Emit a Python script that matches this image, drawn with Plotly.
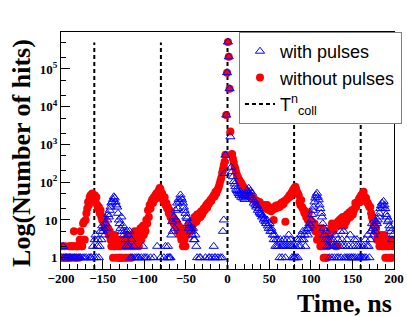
import plotly.graph_objects as go

# Histogram bins: 1 ns wide, from -200 to 199 ns (lower edges)
bin_start = -200
bin_count = 400

# Counts "without pulses" (red), 10 bins per row
red_counts = [
    2, 1, 1, 1, 2, 1, 1, 1, 1, 2,          # -200
    1, 2, 1, 2, 2, 5, 1, 2, 1, 2,          # -190
    2, 1, 3, 5, 2, 2, 8, 9, 3, 10,         # -180
    15, 20, 30, 25, 40, 45, 35, 50, 42, 38,  # -170
    45, 30, 40, 25, 20, 22, 15, 18, 12, 10,  # -160
    12, 8, 10, 6, 7, 5, 6, 4, 5, 3,        # -150
    2, 3, 1, 2, 4, 2, 1, 3, 2, 1,          # -140
    1, 2, 1, 1, 3, 2, 1, 2, 1, 4,          # -130
    2, 1, 3, 2, 1, 4, 2, 3, 5, 2,          # -120
    4, 3, 5, 2, 4, 6, 3, 5, 7, 4,          # -110
    6, 5, 10, 8, 18, 12, 25, 20, 30, 35,   # -100
    28, 40, 35, 45, 50, 38, 55, 60, 70, 65,  # -90
    45, 50, 35, 30, 40, 25, 28, 20, 22, 15,  # -80
    18, 12, 15, 10, 12, 8, 10, 7, 9, 6,    # -70
    5, 7, 4, 6, 3, 5, 2, 4, 3, 2,          # -60
    5, 4, 6, 8, 5, 7, 9, 6, 10, 8,         # -50
    12, 10, 9, 14, 11, 13, 15, 12, 17, 14,  # -40
    16, 20, 18, 22, 25, 21, 28, 26, 30, 34,  # -30
    32, 38, 40, 45, 42, 55, 50, 60, 65, 75,  # -20
    90, 110, 130, 175, 220, 280, 350, 530, 6000, 80000,  # -10
    520000, 210000, 30000, 2200, 530, 560, 420, 330, 260, 220,  # 0
    180, 150, 135, 120, 110, 100, 95, 85, 76, 72,  # 10
    65, 60, 55, 58, 50, 48, 45, 42, 44, 40,  # 20
    38, 36, 35, 33, 30, 32, 28, 27, 30, 25,  # 30
    26, 24, 22, 25, 20, 23, 21, 25, 19, 22,  # 40
    18, 20, 17, 21, 19, 10, 22, 20, 24, 21,  # 50
    23, 25, 22, 26, 28, 25, 30, 27, 32, 9,   # 60
    34, 36, 38, 40, 45, 42, 50, 55, 60, 65,  # 70
    70, 76, 65, 55, 50, 45, 30, 25, 34, 22,  # 80
    20, 18, 15, 17, 12, 14, 10, 15, 9, 10,   # 90
    8, 9, 7, 6, 8, 5, 6, 3, 5, 4,          # 100
    3, 2, 6, 2, 4, 1, 2, 1, 3, 1,          # 110
    2, 3, 5, 4, 6, 8, 5, 6, 7, 2,          # 120
    8, 2, 9, 7, 10, 8, 11, 9, 12, 10,      # 130
    7, 12, 9, 14, 11, 13, 16, 12, 15, 18,  # 140
    14, 17, 20, 28, 22, 28, 30, 34, 38, 30,  # 150
    45, 40, 50, 56, 42, 35, 38, 30, 28, 25,  # 160
    22, 22, 15, 12, 10, 7, 8, 5, 6, 3,     # 170
    4, 3, 2, 3, 4, 2, 3, 2, 4, 1,          # 180
    2, 1, 3, 2, 1, 3, 1, 1, 2, 3,          # 190
]

# Counts "with pulses" (blue), 10 bins per row (0 = empty bin)
blue_counts = [
    1, 0, 2, 1, 0, 1, 1, 0, 1, 0,          # -200
    1, 1, 0, 1, 0, 1, 1, 0, 1, 0,          # -190
    1, 0, 1, 1, 0, 0, 1, 0, 1, 0,          # -180
    1, 0, 0, 1, 0, 1, 1, 0, 2, 1,          # -170
    3, 4, 1, 2, 3, 1, 2, 5, 3, 7,          # -160
    5, 6, 4, 8, 6, 10, 14, 12, 18, 22,     # -150
    28, 30, 35, 41, 38, 30, 25, 22, 15, 10,  # -140
    8, 6, 12, 5, 7, 4, 5, 3, 2, 5,         # -130
    4, 2, 5, 1, 3, 1, 0, 2, 1, 0,          # -120
    1, 0, 1, 1, 0, 0, 1, 0, 2, 1,          # -110
    0, 1, 0, 1, 0, 0, 0, 1, 0, 0,          # -100
    0, 1, 0, 0, 0, 2, 0, 0, 0, 1,          # -90
    0, 0, 0, 1, 0, 2, 0, 1, 2, 1,          # -80
    1, 1, 4, 9, 5, 12, 6, 18, 10, 28,      # -70
    20, 35, 30, 46, 38, 34, 28, 22, 18, 15,  # -60
    12, 11, 8, 6, 7, 6, 5, 4, 6, 3,        # -50
    3, 4, 2, 1, 0, 0, 1, 1, 0, 0,          # -40
    0, 0, 0, 1, 0, 0, 0, 1, 1, 0,          # -30
    0, 1, 0, 2, 1, 1, 0, 0, 1, 0,          # -20
    0, 1, 0, 1, 5, 10, 170, 520, 6000, 80000,  # -10
    520000, 210000, 30000, 1600, 250, 190, 140, 104, 90, 76,  # 0
    65, 60, 55, 50, 45, 56, 40, 48, 38, 44,  # 10
    35, 42, 50, 60, 55, 69, 45, 58, 40, 51,  # 20
    35, 28, 32, 25, 22, 24, 18, 20, 16, 15,  # 30
    14, 12, 13, 10, 11, 9, 8, 10, 7, 6,    # 40
    8, 5, 6, 5, 4, 3, 4, 2, 3, 2,          # 50
    3, 2, 1, 3, 2, 1, 2, 3, 2, 1,          # 60
    2, 3, 2, 4, 2, 3, 2, 1, 2, 1,          # 70
    1, 2, 1, 3, 1, 2, 3, 2, 4, 3,          # 80
    5, 3, 4, 2, 5, 6, 4, 6, 8, 7,          # 90
    10, 14, 18, 22, 30, 38, 45, 51, 40, 34,  # 100
    25, 20, 15, 12, 8, 6, 4, 3, 5, 2,      # 110
    3, 2, 1, 3, 2, 1, 3, 2, 1, 4,          # 120
    2, 1, 3, 1, 2, 5, 1, 3, 2, 5,          # 130
    1, 2, 1, 3, 1, 2, 1, 4, 1, 1,          # 140
    2, 1, 3, 1, 2, 3, 1, 2, 1, 1,          # 150
    2, 1, 1, 2, 1, 3, 1, 2, 4, 2,          # 160
    1, 3, 5, 8, 6, 4, 7, 5, 9, 8,          # 170
    10, 12, 15, 20, 24, 28, 22, 31, 25, 20,  # 180
    14, 12, 9, 10, 7, 6, 5, 3, 4, 0,       # 190
]

# Collision times T^n_coll (ns) and extent of marker lines
coll_times = [-160, -80, 0, 80, 160]
coll_line_bottom = 0.5
coll_line_top = 5e5

x_ticks = [-200, -150, -100, -50, 0, 50, 100, 150, 200]
y_tickvals = [1, 10, 100, 1000, 10000, 100000]
y_ticktext = ["1", "10", "10<sup>2</sup>", "10<sup>3</sup>", "10<sup>4</sup>", "10<sup>5</sup>"]

times = [bin_start + i for i in range(bin_count)]

def nonzero(counts):
    xs, ys = [], []
    for t, c in zip(times, counts):
        if c > 0:
            xs.append(t + 0.5)
            ys.append(c)
    return xs, ys

rx, ry = nonzero(red_counts)
bx, by = nonzero(blue_counts)

lx, ly = [], []
for t in coll_times:
    lx += [t, t, None]
    ly += [coll_line_bottom, coll_line_top, None]

fig = go.Figure()
fig.add_trace(go.Scatter(
    x=lx, y=ly, mode="lines", name="T<sup>n</sup><sub>coll</sub>",
    line=dict(color="black", width=2, dash="4px,3px"), legendrank=3,
))
fig.add_trace(go.Scatter(
    x=rx, y=ry, mode="markers", name="without pulses",
    marker=dict(symbol="circle", size=8, color="#ff0000", line=dict(width=0)),
    legendrank=2,
))
fig.add_trace(go.Scatter(
    x=bx, y=by, mode="markers", name="with pulses",
    marker=dict(symbol="triangle-up-open", size=8, color="#0000ff", line=dict(width=1, color="#0000ff")),
    legendrank=1,
))

serif = "Liberation Serif, Times New Roman, serif"
fig.update_layout(
    width=407, height=317,
    margin=dict(l=61, r=13, t=32, b=48, autoexpand=False),
    paper_bgcolor="white", plot_bgcolor="white",
    showlegend=True,
    legend=dict(
        x=1.024, y=1.0, xanchor="right", yanchor="top",
        bgcolor="white", bordercolor="#808080", borderwidth=1,
        font=dict(family="Liberation Sans, Arial, sans-serif", size=18, color="black"),
        traceorder="normal", itemwidth=30, tracegroupgap=0,
    ),
    xaxis=dict(
        range=[-200, 200], tickvals=x_ticks, ticks="inside", ticklen=9,
        tickcolor="black", showline=True, linecolor="black", linewidth=1, mirror=True,
        showgrid=False, zeroline=False, ticklabelstandoff=-3, automargin=False,
        tickfont=dict(family=serif, size=13, color="black", weight="bold"),
        minor=dict(dtick=10, ticks="inside", ticklen=5, tickcolor="black", showgrid=False),
    ),
    yaxis=dict(
        type="log", range=[-0.3, 5.98], tickvals=y_tickvals, ticktext=y_ticktext,
        ticks="inside", ticklen=9, tickcolor="black", automargin=False,
        showline=True, linecolor="black", linewidth=1, mirror=True,
        showgrid=False, zeroline=False,
        tickfont=dict(family=serif, size=13, color="black", weight="bold"),
        minor=dict(ticks="inside", ticklen=5, tickcolor="black", showgrid=False),
    ),
    annotations=[
        dict(text="Log(Number of hits)", textangle=-90, xref="paper", yref="paper",
             x=-0.117, y=0.49, xanchor="center", yanchor="middle", showarrow=False,
             font=dict(family=serif, size=26, color="black", weight="bold")),
        dict(text="Time, ns", xref="paper", yref="paper", x=1.0, y=-0.075,
             xanchor="right", yanchor="top", showarrow=False,
             font=dict(family=serif, size=26, color="black", weight="bold")),
    ],
)

fig.write_html("out.html", config={"displayModeBar": False},
               post_script="document.body.style.margin='0px';document.body.style.overflow='hidden';")
